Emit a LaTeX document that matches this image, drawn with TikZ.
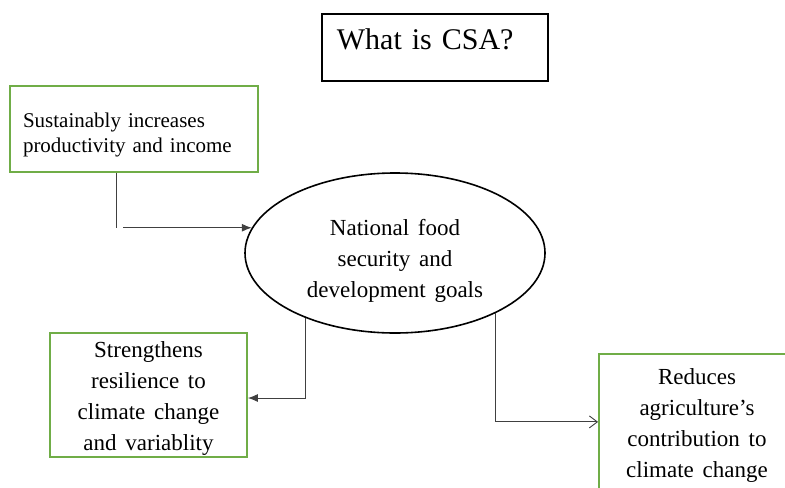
\documentclass[tikz,border=0pt]{standalone}
\usepackage{fontspec}
\setmainfont{Liberation Serif}
\usepackage{tikz}
\usetikzlibrary{shapes.geometric, arrows.meta}
\definecolor{boxgreen}{RGB}{112,173,71}
\newcommand{\widesp}{\spaceskip=0.38em plus 0.1em\relax}
\tikzset{
    titlebox/.style={draw=black, line width=0.9pt, anchor=north west, align=left,
        inner xsep=7.5pt, inner ysep=0pt, text width=98pt, text height=18pt, text depth=15.5pt,
        font=\fontsize{15}{18}\selectfont},
    smallbox/.style={draw=boxgreen, line width=0.9pt, align=left, inner xsep=6.5pt,
        text width=111pt, minimum height=43pt, font=\fontsize{10.5}{12.5}\selectfont},
    greenbox/.style={draw=boxgreen, line width=0.9pt, align=center, inner sep=0pt,
        font=\fontsize{11.5}{15.5}\selectfont\widesp},
    goal/.style={draw=black, line width=0.8pt, ellipse, inner sep=0pt, align=center,
        minimum width=150pt, minimum height=80pt,
        font=\fontsize{11.5}{15.5}\selectfont\widesp},
    link/.style={draw=black!75, line width=0.45pt}
}
\begin{document}
\begin{tikzpicture}[x=0.5pt, y=-0.5pt]
        \useasboundingbox (0, 0) rectangle (785, 487);
        \clip (0, 0) rectangle (785, 487);
        % Draw the title
        \node[titlebox] (title) at (321, 13) {What is CSA?};
        % Draw the central goal
        \node[goal] (ell) at (395, 253) {\rule{0pt}{16pt}National food\\security and\\development goals};
        % Draw the three boxes
        \node[smallbox] (box1) at (134, 129) {\rule{0pt}{13.5pt}Sustainably increases\\productivity and income};
        \node[greenbox, minimum width=98.5pt, minimum height=62pt] (box2) at (148.5, 395)
            {\rule{0pt}{11pt}Strengthens\\resilience to\\climate change\\and variablity};
        \node[greenbox, anchor=north, minimum width=98pt, inner ysep=5pt, text depth=12pt] (box3) at (697, 353)
            {\rule{0pt}{10.5pt}Reduces\\agriculture's\\contribution to\\climate change};

        % Draw the connectors
        \coordinate (k1) at (116, 228);
        \coordinate (k2) at (123, 227);
        \draw[link] (box1.south -| k1) -- (k1);
        \draw[link, -{Latex[length=5pt, width=4pt]}] (ell.170 -| k2) -- (ell.170);
        \draw[link, -{Latex[length=5pt, width=4pt]}] (ell.216) |- ([yshift=-1.5pt]box2.east);
        \draw[link, -{Straight Barb[length=4pt, width=6pt]}] (ell.-31) |- ([yshift=5.5pt]box3.west);
    \end{tikzpicture}
\end{document}
